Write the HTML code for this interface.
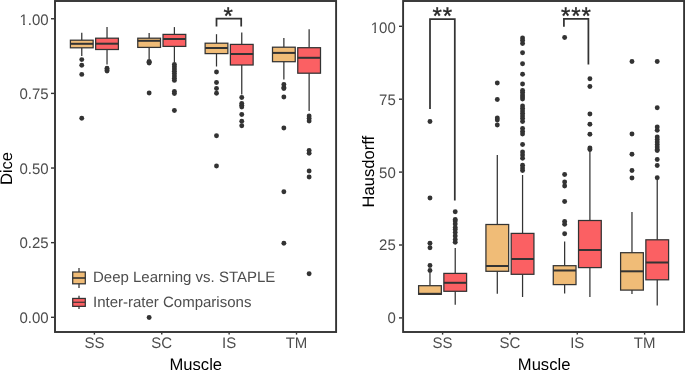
<!DOCTYPE html>
<html><head><meta charset="utf-8"><style>
html,body{margin:0;padding:0;background:#fff;width:685px;height:370px;overflow:hidden}
svg{display:block;will-change:transform}
text{font-family:"Liberation Sans",sans-serif;text-rendering:geometricPrecision}
</style></head><body>
<svg width="685" height="370" viewBox="0 0 685 370">
<rect x="0" y="0" width="685" height="370" fill="#fff"/>
<g stroke="#333333" stroke-width="1.25" fill="none">
<line x1="81.77" y1="32.8" x2="81.77" y2="40.2" />
<line x1="81.77" y1="47.8" x2="81.77" y2="56.0" />
<rect x="70.40" y="40.2" width="22.74" height="7.60" fill="#F0BC77" />
<line x1="70.40" y1="43.8" x2="93.14" y2="43.8" stroke-width="2.0" />
<line x1="107.03" y1="27.0" x2="107.03" y2="38.2" />
<line x1="107.03" y1="49.5" x2="107.03" y2="64.5" />
<rect x="95.66" y="38.2" width="22.74" height="11.30" fill="#FB6063" />
<line x1="95.66" y1="43.7" x2="118.40" y2="43.7" stroke-width="2.0" />
<line x1="149.14" y1="33.0" x2="149.14" y2="38.2" />
<line x1="149.14" y1="47.4" x2="149.14" y2="59.0" />
<rect x="137.77" y="38.2" width="22.74" height="9.20" fill="#F0BC77" />
<line x1="137.77" y1="40.8" x2="160.51" y2="40.8" stroke-width="2.0" />
<line x1="174.4" y1="27.1" x2="174.4" y2="34.4" />
<line x1="174.4" y1="46.4" x2="174.4" y2="62.0" />
<rect x="163.03" y="34.4" width="22.74" height="12.00" fill="#FB6063" />
<line x1="163.03" y1="39.0" x2="185.77" y2="39.0" stroke-width="2.0" />
<line x1="216.5" y1="34.2" x2="216.5" y2="43.2" />
<line x1="216.5" y1="53.6" x2="216.5" y2="66.5" />
<rect x="205.13" y="43.2" width="22.74" height="10.40" fill="#F0BC77" />
<line x1="205.13" y1="48.0" x2="227.87" y2="48.0" stroke-width="2.0" />
<line x1="241.76" y1="32.5" x2="241.76" y2="44.4" />
<line x1="241.76" y1="65.0" x2="241.76" y2="94.5" />
<rect x="230.39" y="44.4" width="22.74" height="20.60" fill="#FB6063" />
<line x1="230.39" y1="54.0" x2="253.13" y2="54.0" stroke-width="2.0" />
<line x1="283.87" y1="38.0" x2="283.87" y2="47.2" />
<line x1="283.87" y1="61.7" x2="283.87" y2="79.5" />
<rect x="272.50" y="47.2" width="22.74" height="14.50" fill="#F0BC77" />
<line x1="272.50" y1="52.9" x2="295.24" y2="52.9" stroke-width="2.0" />
<line x1="309.13" y1="29.3" x2="309.13" y2="47.7" />
<line x1="309.13" y1="73.2" x2="309.13" y2="111.0" />
<rect x="297.76" y="47.7" width="22.74" height="25.50" fill="#FB6063" />
<line x1="297.76" y1="57.8" x2="320.50" y2="57.8" stroke-width="2.0" />
<line x1="429.97" y1="272.5" x2="429.97" y2="285.7" />
<line x1="429.97" y1="294.3" x2="429.97" y2="293.8" />
<rect x="418.60" y="285.7" width="22.74" height="8.60" fill="#F0BC77" />
<line x1="418.60" y1="293.8" x2="441.34" y2="293.8" stroke-width="2.0" />
<line x1="455.23" y1="248.0" x2="455.23" y2="273.4" />
<line x1="455.23" y1="291.3" x2="455.23" y2="304.8" />
<rect x="443.86" y="273.4" width="22.74" height="17.90" fill="#FB6063" />
<line x1="443.86" y1="282.8" x2="466.60" y2="282.8" stroke-width="2.0" />
<line x1="497.3" y1="155.0" x2="497.3" y2="224.5" />
<line x1="497.3" y1="271.3" x2="497.3" y2="293.8" />
<rect x="485.93" y="224.5" width="22.74" height="46.80" fill="#F0BC77" />
<line x1="485.93" y1="266.0" x2="508.67" y2="266.0" stroke-width="2.0" />
<line x1="522.56" y1="175.0" x2="522.56" y2="233.4" />
<line x1="522.56" y1="274.3" x2="522.56" y2="297.0" />
<rect x="511.19" y="233.4" width="22.74" height="40.90" fill="#FB6063" />
<line x1="511.19" y1="259.0" x2="533.93" y2="259.0" stroke-width="2.0" />
<line x1="564.64" y1="241.5" x2="564.64" y2="265.7" />
<line x1="564.64" y1="284.6" x2="564.64" y2="293.5" />
<rect x="553.27" y="265.7" width="22.74" height="18.90" fill="#F0BC77" />
<line x1="553.27" y1="270.5" x2="576.01" y2="270.5" stroke-width="2.0" />
<line x1="589.9" y1="151.0" x2="589.9" y2="220.5" />
<line x1="589.9" y1="267.6" x2="589.9" y2="297.0" />
<rect x="578.53" y="220.5" width="22.74" height="47.10" fill="#FB6063" />
<line x1="578.53" y1="250.0" x2="601.27" y2="250.0" stroke-width="2.0" />
<line x1="631.97" y1="212.0" x2="631.97" y2="252.7" />
<line x1="631.97" y1="290.1" x2="631.97" y2="294.0" />
<rect x="620.60" y="252.7" width="22.74" height="37.40" fill="#F0BC77" />
<line x1="620.60" y1="271.3" x2="643.34" y2="271.3" stroke-width="2.0" />
<line x1="657.23" y1="180.0" x2="657.23" y2="239.8" />
<line x1="657.23" y1="279.8" x2="657.23" y2="305.5" />
<rect x="645.86" y="239.8" width="22.74" height="40.00" fill="#FB6063" />
<line x1="645.86" y1="262.5" x2="668.60" y2="262.5" stroke-width="2.0" />
</g>
<g fill="#333333"><circle cx="81.77" cy="59.6" r="2.45" /><circle cx="81.77" cy="65.2" r="2.45" /><circle cx="81.77" cy="74.4" r="2.45" /><circle cx="81.77" cy="118.2" r="2.45" /><circle cx="107.03" cy="68.2" r="2.45" /><circle cx="107.03" cy="70.0" r="2.45" /><circle cx="107.03" cy="71.0" r="2.45" /><circle cx="149.14" cy="61.4" r="2.45" /><circle cx="149.14" cy="62.2" r="2.45" /><circle cx="149.14" cy="63.0" r="2.45" /><circle cx="149.14" cy="93.0" r="2.45" /><circle cx="149.14" cy="317.5" r="2.45" /><circle cx="174.4" cy="64.4" r="2.45" /><circle cx="174.4" cy="66.7" r="2.45" /><circle cx="174.4" cy="69.0" r="2.45" /><circle cx="174.4" cy="71.3" r="2.45" /><circle cx="174.4" cy="73.6" r="2.45" /><circle cx="174.4" cy="75.9" r="2.45" /><circle cx="174.4" cy="78.2" r="2.45" /><circle cx="174.4" cy="80.4" r="2.45" /><circle cx="174.4" cy="91.5" r="2.45" /><circle cx="174.4" cy="93.5" r="2.45" /><circle cx="174.4" cy="110.5" r="2.45" /><circle cx="216.5" cy="72.0" r="2.45" /><circle cx="216.5" cy="82.5" r="2.45" /><circle cx="216.5" cy="88.5" r="2.45" /><circle cx="216.5" cy="93.2" r="2.45" /><circle cx="216.5" cy="135.8" r="2.45" /><circle cx="216.5" cy="166.0" r="2.45" /><circle cx="241.76" cy="97.5" r="2.45" /><circle cx="241.76" cy="103.5" r="2.45" /><circle cx="241.76" cy="105.3" r="2.45" /><circle cx="241.76" cy="107.0" r="2.45" /><circle cx="241.76" cy="114.5" r="2.45" /><circle cx="241.76" cy="121.3" r="2.45" /><circle cx="241.76" cy="125.8" r="2.45" /><circle cx="283.87" cy="84.5" r="2.45" /><circle cx="283.87" cy="87.5" r="2.45" /><circle cx="283.87" cy="88.5" r="2.45" /><circle cx="283.87" cy="97.0" r="2.45" /><circle cx="283.87" cy="128.0" r="2.45" /><circle cx="283.87" cy="191.8" r="2.45" /><circle cx="283.87" cy="243.3" r="2.45" /><circle cx="309.13" cy="116.0" r="2.45" /><circle cx="309.13" cy="118.5" r="2.45" /><circle cx="309.13" cy="121.0" r="2.45" /><circle cx="309.13" cy="150.5" r="2.45" /><circle cx="309.13" cy="153.3" r="2.45" /><circle cx="309.13" cy="171.0" r="2.45" /><circle cx="309.13" cy="177.0" r="2.45" /><circle cx="309.13" cy="273.8" r="2.45" /><circle cx="429.97" cy="121.5" r="2.45" /><circle cx="429.97" cy="198.0" r="2.45" /><circle cx="429.97" cy="243.3" r="2.45" /><circle cx="429.97" cy="247.8" r="2.45" /><circle cx="429.97" cy="265.5" r="2.45" /><circle cx="429.97" cy="270.5" r="2.45" /><circle cx="455.23" cy="211.8" r="2.45" /><circle cx="455.23" cy="219.5" r="2.45" /><circle cx="455.23" cy="221.0" r="2.45" /><circle cx="455.23" cy="224.0" r="2.45" /><circle cx="455.23" cy="227.5" r="2.45" /><circle cx="455.23" cy="229.5" r="2.45" /><circle cx="455.23" cy="232.5" r="2.45" /><circle cx="455.23" cy="236.0" r="2.45" /><circle cx="455.23" cy="239.5" r="2.45" /><circle cx="455.23" cy="242.2" r="2.45" /><circle cx="497.3" cy="83.0" r="2.45" /><circle cx="497.3" cy="99.5" r="2.45" /><circle cx="497.3" cy="118.0" r="2.45" /><circle cx="497.3" cy="120.0" r="2.45" /><circle cx="497.3" cy="125.0" r="2.45" /><circle cx="522.56" cy="38.0" r="2.45" /><circle cx="522.56" cy="40.5" r="2.45" /><circle cx="522.56" cy="43.5" r="2.45" /><circle cx="522.56" cy="52.8" r="2.45" /><circle cx="522.56" cy="63.8" r="2.45" /><circle cx="522.56" cy="74.3" r="2.45" /><circle cx="522.56" cy="84.0" r="2.45" /><circle cx="522.56" cy="90.5" r="2.45" /><circle cx="522.56" cy="92.5" r="2.45" /><circle cx="522.56" cy="95.0" r="2.45" /><circle cx="522.56" cy="97.0" r="2.45" /><circle cx="522.56" cy="99.0" r="2.45" /><circle cx="522.56" cy="106.0" r="2.45" /><circle cx="522.56" cy="108.5" r="2.45" /><circle cx="522.56" cy="111.0" r="2.45" /><circle cx="522.56" cy="113.5" r="2.45" /><circle cx="522.56" cy="116.0" r="2.45" /><circle cx="522.56" cy="118.5" r="2.45" /><circle cx="522.56" cy="121.5" r="2.45" /><circle cx="522.56" cy="128.5" r="2.45" /><circle cx="522.56" cy="131.5" r="2.45" /><circle cx="522.56" cy="134.0" r="2.45" /><circle cx="522.56" cy="144.5" r="2.45" /><circle cx="522.56" cy="152.0" r="2.45" /><circle cx="522.56" cy="155.0" r="2.45" /><circle cx="522.56" cy="158.3" r="2.45" /><circle cx="522.56" cy="165.3" r="2.45" /><circle cx="522.56" cy="168.0" r="2.45" /><circle cx="522.56" cy="170.5" r="2.45" /><circle cx="564.64" cy="37.5" r="2.45" /><circle cx="564.64" cy="174.5" r="2.45" /><circle cx="564.64" cy="182.0" r="2.45" /><circle cx="564.64" cy="186.0" r="2.45" /><circle cx="564.64" cy="201.5" r="2.45" /><circle cx="564.64" cy="221.5" r="2.45" /><circle cx="564.64" cy="224.3" r="2.45" /><circle cx="564.64" cy="233.8" r="2.45" /><circle cx="589.9" cy="78.8" r="2.45" /><circle cx="589.9" cy="86.5" r="2.45" /><circle cx="589.9" cy="114.0" r="2.45" /><circle cx="589.9" cy="124.2" r="2.45" /><circle cx="589.9" cy="134.3" r="2.45" /><circle cx="589.9" cy="148.0" r="2.45" /><circle cx="589.9" cy="149.5" r="2.45" /><circle cx="631.97" cy="61.5" r="2.45" /><circle cx="631.97" cy="134.0" r="2.45" /><circle cx="631.97" cy="154.2" r="2.45" /><circle cx="631.97" cy="170.5" r="2.45" /><circle cx="631.97" cy="178.0" r="2.45" /><circle cx="657.23" cy="61.5" r="2.45" /><circle cx="657.23" cy="107.8" r="2.45" /><circle cx="657.23" cy="127.0" r="2.45" /><circle cx="657.23" cy="130.3" r="2.45" /><circle cx="657.23" cy="137.0" r="2.45" /><circle cx="657.23" cy="139.5" r="2.45" /><circle cx="657.23" cy="142.0" r="2.45" /><circle cx="657.23" cy="144.5" r="2.45" /><circle cx="657.23" cy="147.0" r="2.45" /><circle cx="657.23" cy="149.5" r="2.45" /><circle cx="657.23" cy="150.5" r="2.45" /><circle cx="657.23" cy="159.5" r="2.45" /><circle cx="657.23" cy="165.5" r="2.45" /><circle cx="657.23" cy="177.8" r="2.45" /></g>
<!-- legend -->
<g stroke="#333333" stroke-width="1.25">
<line x1="79" y1="268" x2="79" y2="288"/>
<rect x="72.7" y="272" width="12.6" height="11.8" fill="#F0BC77"/>
<line x1="72.7" y1="278" x2="85.3" y2="278" stroke-width="1.6"/>
<line x1="79" y1="295.8" x2="79" y2="309"/>
<rect x="72.7" y="298.45" width="12.6" height="7.9" fill="#FB6063"/>
<line x1="72.7" y1="302.25" x2="85.3" y2="302.25" stroke-width="1.15"/>
</g>
<g fill="#4D4D4D" font-size="15">
<text x="93" y="282">Deep Learning vs. STAPLE</text>
<text x="93" y="306.7">Inter-rater Comparisons</text>
</g>
<!-- significance brackets -->
<g stroke="#333333" stroke-width="1.75" fill="none">
<polyline points="216.5,26.6 216.5,18.6 241.2,18.6 241.2,26.6"/>
<polyline points="430,109 430,19 454.8,19 454.8,200.5"/>
<polyline points="563.9,26.7 563.9,18.9 588.4,18.9 588.4,64.5"/>
</g>
<g fill="#2a2a2a" stroke="#2a2a2a" stroke-width="0.35" font-size="24" text-anchor="middle">
<text x="228.1" y="24">*</text>
<text x="442.8" y="24" letter-spacing="1">**</text>
<text x="576.4" y="24" letter-spacing="1">***</text>
</g>
<!-- panel borders -->
<g stroke="#333333" stroke-width="1.9" fill="none">
<rect x="55" y="1" width="281.1" height="331"/>
<rect x="403.1" y="1" width="281" height="331"/>
</g>
<g stroke="#333333" stroke-width="1.4">
<line x1="51" y1="317.30" x2="54" y2="317.30" /><line x1="51" y1="242.66" x2="54" y2="242.66" /><line x1="51" y1="168.03" x2="54" y2="168.03" /><line x1="51" y1="93.39" x2="54" y2="93.39" /><line x1="51" y1="18.75" x2="54" y2="18.75" /><line x1="399" y1="317.90" x2="402" y2="317.90" /><line x1="399" y1="245.00" x2="402" y2="245.00" /><line x1="399" y1="172.10" x2="402" y2="172.10" /><line x1="399" y1="99.20" x2="402" y2="99.20" /><line x1="399" y1="26.30" x2="402" y2="26.30" /><line x1="94.4" y1="333" x2="94.4" y2="334.6" /><line x1="161.77" y1="333" x2="161.77" y2="334.6" /><line x1="229.13" y1="333" x2="229.13" y2="334.6" /><line x1="296.5" y1="333" x2="296.5" y2="334.6" /><line x1="442.6" y1="333" x2="442.6" y2="334.6" /><line x1="509.93" y1="333" x2="509.93" y2="334.6" /><line x1="577.27" y1="333" x2="577.27" y2="334.6" /><line x1="644.6" y1="333" x2="644.6" y2="334.6" />
</g>
<g fill="#4D4D4D" font-size="15">
<text transform="translate(48.6,323) scale(1,1.02)" text-anchor="end">0.00</text><text transform="translate(48.6,248) scale(1,1.02)" text-anchor="end">0.25</text><text transform="translate(48.6,174) scale(1,1.02)" text-anchor="end">0.50</text><text transform="translate(48.6,99) scale(1,1.02)" text-anchor="end">0.75</text><text transform="translate(48.6,25) scale(1,1.02)" text-anchor="end">1.00</text><text transform="translate(395.8,323) scale(1,1.02)" text-anchor="end">0</text><text transform="translate(395.8,250) scale(1,1.02)" text-anchor="end">25</text><text transform="translate(395.8,178) scale(1,1.02)" text-anchor="end">50</text><text transform="translate(395.8,105) scale(1,1.02)" text-anchor="end">75</text><text transform="translate(395.8,32.6) scale(1,1.02)" text-anchor="end">100</text><text transform="translate(94.4,348) scale(1,1.02)" text-anchor="middle">SS</text><text transform="translate(161.77,348) scale(1,1.02)" text-anchor="middle">SC</text><text transform="translate(229.13,348) scale(1,1.02)" text-anchor="middle">IS</text><text transform="translate(296.5,348) scale(1,1.02)" text-anchor="middle">TM</text><text transform="translate(442.6,348) scale(1,1.02)" text-anchor="middle">SS</text><text transform="translate(509.93,348) scale(1,1.02)" text-anchor="middle">SC</text><text transform="translate(577.27,348) scale(1,1.02)" text-anchor="middle">IS</text><text transform="translate(644.6,348) scale(1,1.02)" text-anchor="middle">TM</text>
</g>
<g fill="#fff">
<rect x="19.5" y="22.6" width="3.6" height="2.6"/>
<rect x="24.9" y="22.6" width="3.1" height="2.6"/>
<rect x="370.5" y="30.6" width="3.7" height="2.6"/>
<rect x="375.9" y="30.6" width="3.0" height="2.6"/>
</g>
<g fill="#000" font-size="16.6">
<text x="195.8" y="369.5" text-anchor="middle">Muscle</text>
<text x="544.1" y="369.5" text-anchor="middle">Muscle</text>
<text transform="translate(12.2,168.5) rotate(-90)" text-anchor="middle">Dice</text>
<text transform="translate(374.2,171.6) rotate(-90)" text-anchor="middle">Hausdorff</text>
</g>
</svg>
</body></html>
